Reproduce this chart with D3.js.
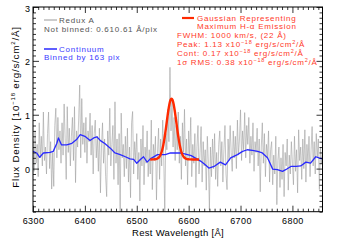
<!DOCTYPE html>
<html><head><meta charset="utf-8">
<script src="https://cdn.jsdelivr.net/npm/d3@7"></script>
<style>
html,body{margin:0;padding:0;background:#fff;}
svg{display:block;}
text{font-family:"Liberation Sans",Arial,sans-serif;}
</style></head>
<body>
<svg id="c" width="339" height="243"></svg>
<script>
// ---- data ----
const waveStart = 6300, waveStep = 2; // Å, gray spectrum sampling
const fluxSpectrum = [
0.55,-0.05,0.70,0.10,0.45,-0.15,0.85,0.20,0.60,0.05,
1.05,0.15,0.40,-0.10,0.65,1.05,0.00,0.50,-0.38,0.30,
-0.33,0.80,1.12,0.20,0.95,0.35,0.70,0.10,0.85,0.25,
1.20,0.55,-0.20,1.15,0.30,0.75,0.05,0.60,0.95,0.15,
1.15,-0.26,0.70,0.40,0.90,1.55,0.20,1.30,0.45,0.85,
0.30,0.95,0.10,0.70,0.50,1.03,0.25,0.80,-0.10,0.65,
0.90,0.20,0.60,-0.05,0.75,-0.45,0.40,0.85,0.10,0.55,
-0.15,-0.52,0.70,0.25,1.12,0.05,0.45,0.80,-0.20,1.24,
0.10,0.55,-0.30,0.65,-0.80,1.03,0.20,0.45,-0.15,0.60,
0.00,0.75,-0.25,0.40,-0.54,0.85,1.06,-0.10,0.50,0.15,
0.65,-0.20,0.30,-0.60,0.55,0.05,0.80,-0.30,0.40,0.10,
0.70,-0.15,0.35,-0.10,0.90,-0.39,0.45,0.15,0.60,-0.58,
0.30,0.75,-0.20,0.55,0.05,0.90,0.20,-0.80,0.65,0.35,
1.10,0.50,1.88,0.70,1.25,0.40,0.95,0.15,0.80,0.35,
1.05,0.10,0.60,-0.20,0.85,0.30,1.10,0.05,0.55,-0.30,
0.70,0.20,0.95,-0.15,0.45,0.10,0.65,-0.35,0.40,0.80,
-0.10,0.30,0.78,-0.25,0.50,0.05,0.35,-0.40,0.60,0.10,
-0.76,0.40,-0.15,0.55,0.00,0.65,-0.20,0.30,-0.33,0.45,
0.70,0.05,0.50,-0.25,0.35,0.80,-0.10,-0.39,0.55,0.15,
0.80,0.30,-0.05,0.70,0.20,0.60,0.00,0.90,0.25,0.55,
1.09,0.15,0.70,0.35,1.04,0.20,0.80,0.45,0.95,0.10,
0.60,0.25,0.85,-0.05,0.50,0.30,0.75,0.05,0.55,-0.43,
0.40,0.85,0.10,0.65,-0.15,0.45,0.20,0.70,-0.25,0.35,
0.50,-0.30,0.25,-0.10,0.60,-0.67,0.15,0.40,-0.35,0.20,
-0.20,0.45,-0.52,0.30,0.05,0.55,-0.40,0.25,-0.10,0.50,
0.10,-0.30,0.60,-0.05,0.35,-0.45,0.72,0.15,0.40,-0.20,
0.55,0.00,0.72,-0.25,0.45,0.10,0.60,-0.15,0.35,0.78,
0.05,0.50,-0.10,0.65,0.20,0.55,-0.39,0.40,0.10,0.30
];
const contWave = [6300,6307,6313,6320,6333,6339,6346,6349,6355,6365,6375,6384,6391,6400,6410,6417,6423,6430,6439,6449,6458,6468,6478,6487,6494,6500,6507,6513,6520,6526,6540,6555,6565,6585,6605,6623,6632,6639,6649,6661,6671,6681,6694,6704,6713,6723,6733,6742,6752,6762,6771,6781,6787,6797,6807,6816,6826,6835,6845,6851,6858];
const contFlux = [0.32,0.29,0.21,0.29,0.30,0.32,0.47,0.57,0.44,0.44,0.47,0.54,0.63,0.60,0.52,0.57,0.59,0.52,0.46,0.38,0.29,0.26,0.22,0.18,0.17,0.10,0.17,0.22,0.12,0.18,0.26,0.26,0.29,0.29,0.24,0.14,0.07,0.01,0.04,0.12,0.07,0.20,0.26,0.32,0.35,0.34,0.32,0.29,0.20,-0.01,-0.02,-0.05,-0.02,0.04,0.04,0.05,0.12,0.10,0.22,0.20,0.18];
const gaussWave = [6526,6531,6535,6539,6543,6547,6549,6551,6553,6555,6557,6559,6561,6563,6565,6567,6569,6571,6573,6575,6577,6579,6581,6583,6585,6587,6591,6595,6599,6603,6608,6614,6620];
const gaussFlux = [0.17,0.171,0.173,0.183,0.212,0.284,0.346,0.431,0.537,0.665,0.807,0.953,1.089,1.201,1.274,1.30,1.274,1.201,1.089,0.953,0.807,0.665,0.537,0.431,0.346,0.284,0.212,0.183,0.173,0.171,0.17,0.17,0.17];
const xTicks = [6300,6400,6500,6600,6700,6800];
const yTicks = [0,1,2,3];

// ---- chart ----
const svg = d3.select("#c");
const L=33, R=322.5, T=7, B=211.7;
const x = d3.scaleLinear().domain([6300,6858]).range([L,R]);
const y = d3.scaleLinear().domain([-0.8,3.0]).range([B,T]);

svg.append("clipPath").attr("id","pc").append("rect")
  .attr("x",L).attr("y",T).attr("width",R-L).attr("height",B-T);

const specData = fluxSpectrum.map((v,i)=>[waveStart+i*waveStep, v]);
const line = d3.line().x(d=>x(d[0])).y(d=>y(d[1]));
const g = svg.append("g").attr("clip-path","url(#pc)");
g.append("path").attr("d",line(specData)).attr("fill","none")
  .attr("stroke","#a0a0a0").attr("stroke-width",0.6);
g.append("path").attr("d",line(contWave.map((w,i)=>[w,contFlux[i]]))).attr("fill","none")
  .attr("stroke","#2a2aff").attr("stroke-width",1.3).attr("stroke-linejoin","round");
g.append("path").attr("d",d3.line().curve(d3.curveMonotoneX).x(d=>x(d[0])).y(d=>y(d[1]))(gaussWave.map((w,i)=>[w,gaussFlux[i]])))
  .attr("fill","none").attr("stroke","#ff2a00").attr("stroke-width",2.4).attr("stroke-linejoin","round");

// axes
const xMinor = d3.range(6300,6860,10).filter(v=>v%100!==0);
const yMinor = d3.range(-8,31).map(v=>v/10).filter(v=>Math.abs(v-Math.round(v))>1e-6);
function styleAxis(sel){ sel.selectAll(".domain").remove(); sel.selectAll("line").attr("stroke","#000").attr("stroke-width",0.8); }
const fs = "9px";
let a;
a = svg.append("g").attr("transform",`translate(0,${B})`).call(d3.axisBottom(x).tickValues(xTicks).tickSizeInner(-6).tickSizeOuter(0).tickPadding(6).tickFormat(d3.format("d")));
styleAxis(a); a.selectAll("text").attr("font-size",fs).attr("fill","#000").attr("letter-spacing","0.4px").attr("font-family","Liberation Sans, Arial, sans-serif");
a = svg.append("g").attr("transform",`translate(0,${B})`).call(d3.axisBottom(x).tickValues(xMinor).tickSizeInner(-3).tickSizeOuter(0).tickFormat(""));
styleAxis(a);
a = svg.append("g").attr("transform",`translate(0,${T})`).call(d3.axisTop(x).tickValues(xTicks).tickSizeInner(-6).tickSizeOuter(0).tickFormat(""));
styleAxis(a);
a = svg.append("g").attr("transform",`translate(0,${T})`).call(d3.axisTop(x).tickValues(xMinor).tickSizeInner(-3).tickSizeOuter(0).tickFormat(""));
styleAxis(a);
a = svg.append("g").attr("transform",`translate(${L},0)`).call(d3.axisLeft(y).tickValues(yTicks).tickSizeInner(-6).tickSizeOuter(0).tickPadding(3).tickFormat(d3.format("d")));
styleAxis(a); a.selectAll("text").attr("font-size",fs).attr("fill","#000").attr("dy","0.45em").attr("font-family","Liberation Sans, Arial, sans-serif");
a = svg.append("g").attr("transform",`translate(${L},0)`).call(d3.axisLeft(y).tickValues(yMinor).tickSizeInner(-3).tickSizeOuter(0).tickFormat(""));
styleAxis(a);
a = svg.append("g").attr("transform",`translate(${R},0)`).call(d3.axisRight(y).tickValues(yTicks).tickSizeInner(-6).tickSizeOuter(0).tickFormat(""));
styleAxis(a);
a = svg.append("g").attr("transform",`translate(${R},0)`).call(d3.axisRight(y).tickValues(yMinor).tickSizeInner(-3).tickSizeOuter(0).tickFormat(""));
styleAxis(a);
svg.append("rect").attr("x",L).attr("y",T).attr("width",R-L).attr("height",B-T)
  .attr("fill","none").attr("stroke","#000").attr("stroke-width",1);

// axis titles
svg.append("text").attr("x",178).attr("y",236).attr("text-anchor","middle")
  .attr("font-size","9.5px").attr("letter-spacing","0.3px").attr("fill","#000").text("Rest Wavelength  [Å]");
const yt = svg.append("text").attr("transform",`translate(18.5,107) rotate(-90)`)
  .attr("text-anchor","middle").attr("font-size","9.8px").attr("letter-spacing","0.8px").attr("fill","#000");
yt.append("tspan").text("Flux Density [10");
yt.append("tspan").attr("dy",-3.5).attr("font-size","6px").text("−18");
yt.append("tspan").attr("dy",3.5).text(" erg/s/cm");
yt.append("tspan").attr("dy",-3.5).attr("font-size","6px").text("2");
yt.append("tspan").attr("dy",3.5).text("/Å]");

// legend (left)
const lf = "8px", ls = "0.75px";
svg.append("line").attr("x1",44).attr("x2",57).attr("y1",20).attr("y2",20).attr("stroke","#9a9a9a").attr("stroke-width",1);
svg.append("text").attr("x",59).attr("y",23).attr("font-size",lf).attr("letter-spacing",ls).attr("fill","#555").text("Redux A");
svg.append("text").attr("x",44).attr("y",32).attr("font-size",lf).attr("letter-spacing",ls).attr("fill","#555").text("Not binned: 0.610.61 Å/pix");
svg.append("line").attr("x1",44).attr("x2",57).attr("y1",49).attr("y2",49).attr("stroke","#2a2aff").attr("stroke-width",1.5);
svg.append("text").attr("x",59).attr("y",52).attr("font-size",lf).attr("letter-spacing",ls).attr("fill","#3a3aff").text("Continuum");
svg.append("text").attr("x",44).attr("y",60).attr("font-size",lf).attr("letter-spacing",ls).attr("fill","#3a3aff").text("Binned by 163 pix");

// legend (right, red)
const rc = "#ff3a2a";
svg.append("line").attr("x1",182).attr("x2",194).attr("y1",18).attr("y2",18).attr("stroke","#ff2a00").attr("stroke-width",2.2);
svg.append("text").attr("x",197).attr("y",21).attr("font-size",lf).attr("letter-spacing",ls).attr("fill",rc).text("Gaussian Representing");
svg.append("text").attr("x",197).attr("y",29).attr("font-size",lf).attr("letter-spacing",ls).attr("fill",rc).text("Maximum H-α Emission");
svg.append("text").attr("x",177).attr("y",38).attr("font-size",lf).attr("letter-spacing",ls).attr("fill",rc).text("FWHM: 1000 km/s, (22 Å)");
function supLine(yy, pre){
  const t = svg.append("text").attr("x",177).attr("y",yy).attr("font-size",lf).attr("letter-spacing",ls).attr("fill",rc);
  t.append("tspan").text(pre+" x10");
  t.append("tspan").attr("dy",-3).attr("font-size","5.5px").text("−18");
  t.append("tspan").attr("dy",3).text(" erg/s/cm");
  t.append("tspan").attr("dy",-3).attr("font-size","5.5px").text("2");
  t.append("tspan").attr("dy",3).text("/Å");
}
supLine(47,"Peak: 1.13");
supLine(56,"Cont: 0.17");
supLine(65,"1σ RMS: 0.38");
</script>
</body></html>
